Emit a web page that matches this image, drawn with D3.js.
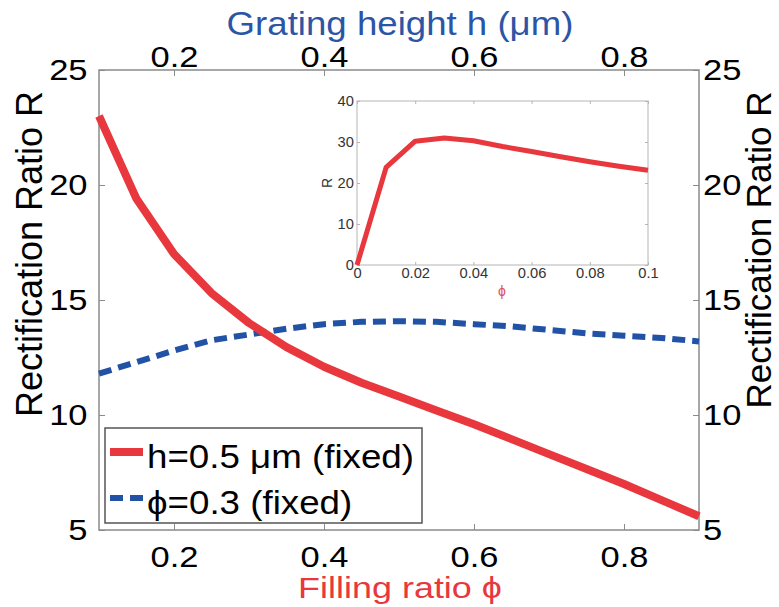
<!DOCTYPE html>
<html>
<head>
<meta charset="utf-8">
<script src="https://cdn.jsdelivr.net/npm/d3@7"></script>
<style>
  body { margin: 0; background: #fff; }
  text { font-family: "Liberation Sans", Arial, sans-serif; }
</style>
</head>
<body>
<svg id="chart" width="779" height="607"></svg>
<script>
// main curves: R vs filling ratio (h fixed) and R vs grating height (phi fixed)
var fillingRatio = [0.1, 0.15, 0.2, 0.25, 0.3, 0.35, 0.4, 0.45, 0.5, 0.55, 0.6, 0.65, 0.7, 0.75, 0.8, 0.85, 0.9];
var ratioVsPhi = [23.0, 19.4, 17.0, 15.3, 14.0, 12.95, 12.1, 11.4, 10.8, 10.2, 9.6, 8.95, 8.3, 7.65, 7.0, 6.3, 5.6];
var gratingHeight = [0.1, 0.15, 0.2, 0.25, 0.3, 0.35, 0.4, 0.45, 0.5, 0.55, 0.6, 0.65, 0.7, 0.75, 0.8, 0.85, 0.9];
var ratioVsHeight = [11.8, 12.3, 12.8, 13.25, 13.5, 13.75, 13.95, 14.05, 14.08, 14.05, 13.95, 13.85, 13.7, 13.55, 13.45, 13.35, 13.2];

// inset: R for small filling ratio
var insetPhi = [0, 0.01, 0.02, 0.03, 0.04, 0.05, 0.06, 0.07, 0.08, 0.09, 0.1];
var insetR = [0, 23.8, 30.2, 31.0, 30.3, 28.9, 27.7, 26.4, 25.2, 24.1, 23.1];

// tick values and labels
var xTicks = [0.2, 0.4, 0.6, 0.8];
var yTicks = [5, 10, 15, 20, 25];
var insetXTicks = [0, 0.02, 0.04, 0.06, 0.08, 0.1];
var insetYTicks = [0, 10, 20, 30, 40];
var legendLabels = ["h=0.5 \u03bcm (fixed)", "\u03d5=0.3 (fixed)"];

var red = "#e8373d", blue = "#2152a6", frame = "#8a8a8a";
var svg = d3.select("#chart");

// scales
var x = d3.scaleLinear().domain([0.1, 0.9]).range([99, 699]);
var xTop = d3.scaleLinear().domain([0.1, 0.9]).range([99, 699]);
var y = d3.scaleLinear().domain([5, 25]).range([530, 70]);

function styleAxis(g, sx) {
  g.select(".domain").remove();
  g.selectAll(".tick line").attr("stroke", frame);
  g.selectAll(".tick text")
    .attr("fill", "#000")
    .style("font-size", "30px")
    .attr("transform", "scale(" + sx + ",1)");
}

// axes, ticks pointing inward
svg.append("g").attr("transform", "translate(0,530)")
  .call(d3.axisBottom(x).tickValues(xTicks).tickSizeInner(-6).tickSizeOuter(0).tickPadding(16).tickFormat(d3.format(".1f")))
  .call(styleAxis, 1.15);
svg.append("g").attr("transform", "translate(0,70)")
  .call(d3.axisTop(xTop).tickValues(xTicks).tickSizeInner(-6).tickSizeOuter(0).tickPadding(3).tickFormat(d3.format(".1f")))
  .call(styleAxis, 1.15);
svg.append("g").attr("transform", "translate(99,0)")
  .call(d3.axisLeft(y).tickValues(yTicks).tickSizeInner(-6).tickSizeOuter(0).tickPadding(10))
  .call(styleAxis, 1.15);
svg.append("g").attr("transform", "translate(699,0)")
  .call(d3.axisRight(y).tickValues(yTicks).tickSizeInner(-6).tickSizeOuter(0).tickPadding(3.5))
  .call(styleAxis, 1.15);

// frame
svg.append("rect")
  .attr("x", x.range()[0]).attr("y", y.range()[1])
  .attr("width", x.range()[1] - x.range()[0]).attr("height", y.range()[0] - y.range()[1])
  .attr("fill", "none").attr("stroke", frame).attr("stroke-width", 1.5);

// lines
var linePhi = d3.line().x(function(d, i) { return x(fillingRatio[i]); }).y(function(d) { return y(d); });
var lineH = d3.line().x(function(d, i) { return xTop(gratingHeight[i]); }).y(function(d) { return y(d); });

svg.append("path").datum(ratioVsHeight)
  .attr("d", lineH).attr("fill", "none")
  .attr("stroke", blue).attr("stroke-width", 6).attr("stroke-dasharray", "13,7");
svg.append("path").datum(ratioVsPhi)
  .attr("d", linePhi).attr("fill", "none")
  .attr("stroke", red).attr("stroke-width", 8).attr("stroke-linejoin", "round");

// axis titles
svg.append("text").attr("transform", "translate(400,35) scale(1.11,1)")
  .attr("text-anchor", "middle").style("font-size", "33px").attr("fill", "#2c55a5")
  .text("Grating height h (\u03bcm)");
svg.append("text").attr("transform", "translate(400,598) scale(1.24,1)")
  .attr("text-anchor", "middle").style("font-size", "29px").attr("fill", red)
  .text("Filling ratio \u03d5");
svg.append("text").attr("transform", "translate(42,254) rotate(-90)")
  .attr("text-anchor", "middle").style("font-size", "36px").attr("fill", "#000")
  .text("Rectification Ratio R");
svg.append("text").attr("transform", "translate(771,250) rotate(-90)")
  .attr("text-anchor", "middle").style("font-size", "35px").attr("fill", "#000")
  .text("Rectification Ratio R");

// legend
var lg = svg.append("g");
lg.append("rect").attr("x", 105).attr("y", 428).attr("width", 317).attr("height", 95)
  .attr("fill", "#fff").attr("stroke", "#555").attr("stroke-width", 1.5);
var legendStyles = [
  { color: red, width: 8, dash: null },
  { color: blue, width: 6, dash: "13,7" }
];
legendLabels.forEach(function(label, i) {
  var yy = 452 + i * 46;
  lg.append("line").attr("x1", 110).attr("x2", 143).attr("y1", yy).attr("y2", yy)
    .attr("stroke", legendStyles[i].color).attr("stroke-width", legendStyles[i].width)
    .attr("stroke-dasharray", legendStyles[i].dash);
  lg.append("text").attr("transform", "translate(147," + (yy + 16) + ") scale(1.08,1)")
    .style("font-size", "34px").attr("fill", "#000").text(label);
});

// inset
var xi = d3.scaleLinear().domain([0, 0.1]).range([357, 648]);
var yi = d3.scaleLinear().domain([0, 40]).range([265, 101]);
var inset = svg.append("g");
inset.append("rect").attr("x", 357).attr("y", 101).attr("width", 291).attr("height", 164)
  .attr("fill", "#fff").attr("stroke", "#b5b5b5").attr("stroke-width", 1);

function styleInset(g) {
  g.select(".domain").remove();
  g.selectAll(".tick line").attr("stroke", "#b5b5b5");
  g.selectAll(".tick text").attr("fill", "#333").style("font-size", "14px")
    .attr("transform", "scale(1.05,1)");
}
inset.append("g").attr("transform", "translate(0,265)")
  .call(d3.axisBottom(xi).tickValues(insetXTicks).tickSizeInner(-3).tickSizeOuter(0).tickPadding(3).tickFormat(d3.format("~g")))
  .call(styleInset);
inset.append("g").attr("transform", "translate(357,0)")
  .call(d3.axisLeft(yi).tickValues(insetYTicks).tickSizeInner(-3).tickSizeOuter(0).tickPadding(3))
  .call(styleInset);
inset.append("g").attr("transform", "translate(0,101)")
  .call(d3.axisTop(xi).tickValues(insetXTicks).tickSizeInner(-3).tickSizeOuter(0).tickFormat(""))
  .call(styleInset);
inset.append("g").attr("transform", "translate(648,0)")
  .call(d3.axisRight(yi).tickValues(insetYTicks).tickSizeInner(-3).tickSizeOuter(0).tickFormat(""))
  .call(styleInset);

inset.append("path").datum(insetR)
  .attr("d", d3.line().x(function(d, i) { return xi(insetPhi[i]); }).y(function(d) { return yi(d); }))
  .attr("fill", "none").attr("stroke", red).attr("stroke-width", 5).attr("stroke-linejoin", "round");

inset.append("text").attr("transform", "translate(332,183) rotate(-90)")
  .attr("text-anchor", "middle").style("font-size", "14px").attr("fill", "#333").text("R");
inset.append("text").attr("x", 502).attr("y", 296)
  .attr("text-anchor", "middle").style("font-size", "14px").attr("fill", "#d9505a").text("\u03d5");
</script>
</body>
</html>
